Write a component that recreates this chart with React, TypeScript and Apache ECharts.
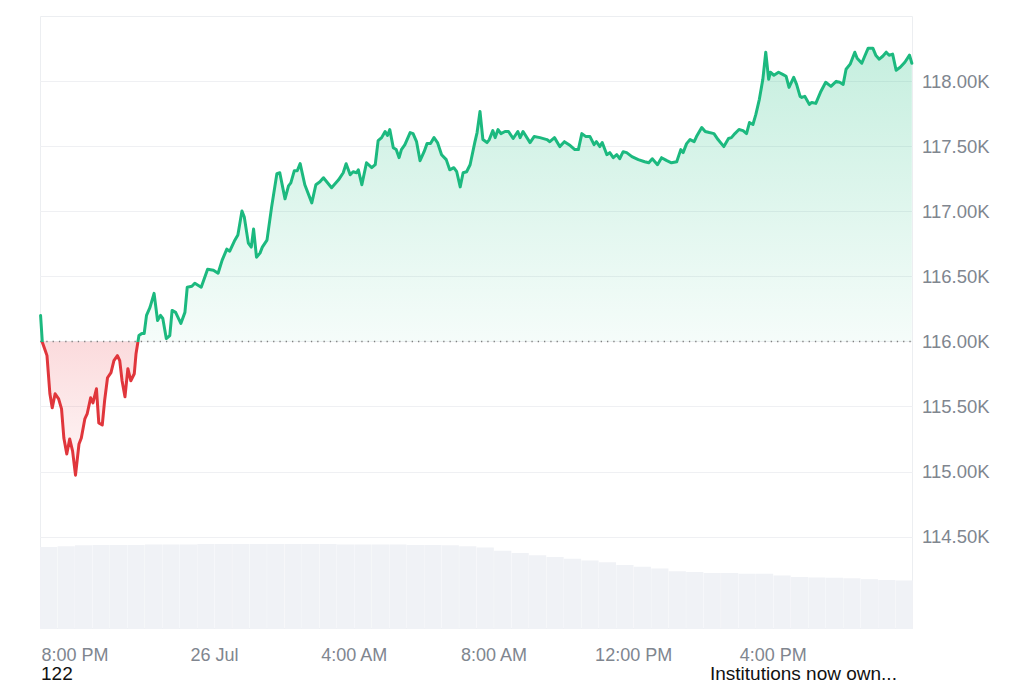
import React, { useEffect, useRef } from 'react';
import * as echarts from 'echarts';

// Minutes since 7:00 PM (25 Jul) and BTC price
const PRICE_POINTS: [number, number][] = [
  [1, 116200], [4, 115995], [9, 115931], [12, 115892], [17, 115599], [21, 115491], [26, 115599], [32, 115560],
  [37, 115483], [41, 115259], [46, 115136], [51, 115252], [56, 115159], [61, 114974], [67, 115213], [71, 115259],
  [77, 115406], [81, 115444], [87, 115568], [91, 115529], [97, 115637], [101, 115375], [107, 115360], [111, 115545],
  [116, 115722], [122, 115761], [127, 115853], [133, 115892], [137, 115853], [141, 115699], [146, 115576], [151, 115792],
  [156, 115699], [162, 115753], [165, 115907], [170, 116046], [175, 116062], [179, 116062], [183, 116201], [189, 116262],
  [196, 116370], [202, 116162], [207, 116201], [211, 116177], [217, 116023], [223, 116046], [227, 116239], [233, 116224],
  [242, 116139], [249, 116224], [253, 116417], [261, 116424], [266, 116448], [277, 116417], [288, 116556], [298, 116548],
  [306, 116525], [313, 116625], [321, 116710], [326, 116694], [334, 116772], [340, 116818], [347, 117003], [351, 116957],
  [358, 116756], [363, 116725], [367, 116864], [372, 116648], [378, 116679], [382, 116725], [390, 116779], [398, 117034],
  [407, 117289], [412, 117296], [421, 117096], [427, 117196], [431, 117219], [437, 117312], [442, 117312], [447, 117366],
  [455, 117204], [467, 117065], [474, 117204], [481, 117227], [487, 117258], [501, 117181], [513, 117242], [521, 117296],
  [526, 117366], [533, 117281], [538, 117304], [544, 117296], [547, 117319], [553, 117204], [561, 117373], [570, 117335],
  [576, 117358], [581, 117543], [587, 117566], [593, 117613], [597, 117582], [601, 117628], [607, 117489], [612, 117474],
  [617, 117412], [621, 117474], [627, 117512], [636, 117605], [641, 117597], [647, 117535], [653, 117389], [660, 117458],
  [665, 117520], [671, 117520], [677, 117566], [683, 117528], [690, 117435], [698, 117397], [704, 117319], [711, 117335],
  [716, 117304], [722, 117188], [727, 117296], [733, 117304], [739, 117358], [747, 117528], [751, 117605], [756, 117767],
  [761, 117551], [768, 117528], [772, 117551], [778, 117620], [782, 117566], [787, 117628], [792, 117597], [799, 117613],
  [805, 117613], [813, 117559], [821, 117613], [825, 117566], [830, 117613], [842, 117528], [849, 117574], [859, 117566],
  [871, 117551], [876, 117535], [884, 117566], [893, 117497], [901, 117535], [911, 117505], [919, 117474], [925, 117474],
  [931, 117597], [938, 117574], [945, 117574], [952, 117512], [956, 117535], [962, 117497], [966, 117528], [974, 117435],
  [979, 117451], [985, 117412], [991, 117435], [996, 117404], [1002, 117458], [1008, 117451], [1017, 117420], [1028, 117397],
  [1039, 117381], [1046, 117373], [1052, 117404], [1061, 117358], [1068, 117412], [1077, 117389], [1085, 117373], [1094, 117381],
  [1101, 117474], [1105, 117451], [1111, 117520], [1117, 117551], [1124, 117535], [1128, 117574], [1137, 117644], [1143, 117613],
  [1150, 117605], [1158, 117597], [1165, 117551], [1175, 117497], [1183, 117559], [1188, 117566], [1194, 117597], [1201, 117628],
  [1208, 117620], [1214, 117597], [1219, 117682], [1225, 117667], [1230, 117744], [1236, 117860], [1242, 118014], [1247, 118222],
  [1252, 118014], [1255, 118068], [1261, 118045], [1269, 118068], [1276, 118052], [1282, 118037], [1287, 117952], [1295, 118029],
  [1300, 117975], [1306, 117883], [1309, 117875], [1314, 117883], [1322, 117821], [1326, 117836], [1333, 117829], [1341, 117914],
  [1350, 117991], [1359, 117960], [1368, 117998], [1374, 117991], [1380, 117975], [1385, 118091], [1392, 118130], [1400, 118222],
  [1404, 118176], [1412, 118137], [1417, 118191], [1423, 118253], [1431, 118253], [1436, 118199], [1442, 118168], [1448, 118191],
  [1454, 118222], [1459, 118199], [1465, 118207], [1471, 118083], [1478, 118106], [1486, 118145], [1494, 118199], [1498, 118137],
];

// Volume bars: [minute slot centre, relative volume]
const VOLUME_POINTS: [number, number][] = [
  [15, 92], [45, 93], [75, 94], [105, 94.5], [135, 94.5], [165, 94.5], [195, 95], [225, 95], [255, 95], [285, 95.5],
  [315, 95.5], [345, 95.5], [375, 95.5], [405, 95.5], [435, 95.5], [465, 95.5], [495, 95.5], [525, 95], [555, 95], [585, 95],
  [615, 95], [645, 94.5], [675, 94.5], [705, 94], [735, 93], [765, 91.5], [795, 88], [825, 85.5], [855, 83], [885, 81],
  [915, 79], [945, 77], [975, 75], [1005, 72], [1035, 70], [1065, 68], [1095, 65], [1125, 64], [1155, 63], [1185, 63],
  [1215, 62], [1245, 62], [1275, 60], [1305, 58.5], [1335, 58], [1365, 57.5], [1395, 57], [1425, 56], [1455, 55], [1485, 54.5],
];

const BASELINE = 116000;
const Y_MIN = 114000;
const Y_MAX = 118500;
const Y_STEP = 500;
const Y_LABEL_MIN = 114500;
const Y_LABEL_MAX = 118000;
const X_MIN = 0;
const X_MAX = 1500;
const XTICK_MINUTES = [60, 300, 540, 780, 1020, 1260];
const XTICK_LABELS = ['8:00 PM', '26 Jul', '4:00 AM', '8:00 AM', '12:00 PM', '4:00 PM'];
const FOOTER_LEFT = '122';
const FOOTER_RIGHT = 'Institutions now own...';

const GREEN = '#1cb97f';
const RED = '#e0363c';
const LABEL_COLOR = '#80868f';
const FONT = 'Liberation Sans, Arial, Helvetica, sans-serif';

export default function App() {
  const ref = useRef<HTMLDivElement>(null);

  useEffect(() => {
    if (!ref.current) return;
    const chart = echarts.init(ref.current, null, { renderer: 'svg' });

    const upper = PRICE_POINTS.map(([t, v]) => [t, Math.max(v, BASELINE)]);
    const lower = PRICE_POINTS.map(([t, v]) => [t, Math.min(v, BASELINE)]);

    const option: any = {
      animation: false,
      backgroundColor: '#ffffff',
      grid: [
        { left: 40, right: 111, top: 16, bottom: 81 },
        { left: 40, right: 111, top: 540, bottom: 54 },
      ],
      xAxis: [
        { type: 'value', gridIndex: 0, min: X_MIN, max: X_MAX, show: false },
        {
          type: 'value',
          gridIndex: 1,
          min: X_MIN,
          max: X_MAX,
          interval: 60,
          axisLine: { show: false },
          axisTick: { show: false },
          splitLine: { show: false },
          axisLabel: {
            margin: 18,
            color: LABEL_COLOR,
            fontSize: 18,
            lineHeight: 16,
            fontFamily: FONT,
            formatter: (v: number) => {
              const i = XTICK_MINUTES.indexOf(v);
              return i >= 0 ? XTICK_LABELS[i] : '';
            },
          },
        },
      ],
      yAxis: [
        {
          type: 'value',
          gridIndex: 0,
          position: 'right',
          min: Y_MIN,
          max: Y_MAX,
          interval: Y_STEP,
          axisLine: { show: false },
          axisTick: { show: false },
          splitLine: {
            show: true,
            showMinLine: false,
            showMaxLine: false,
            lineStyle: { color: '#eff0f3', width: 1 },
          },
          axisLabel: {
            margin: 9,
            color: LABEL_COLOR,
            fontSize: 18.5,
            fontFamily: FONT,
            formatter: (v: number) =>
              v < Y_LABEL_MIN || v > Y_LABEL_MAX ? '' : (v / 1000).toFixed(2) + 'K',
          },
        },
        { type: 'value', gridIndex: 1, min: 0, max: 100, show: false },
      ],
      visualMap: {
        type: 'piecewise',
        show: false,
        seriesIndex: 0,
        dimension: 1,
        pieces: [
          { gte: 100000, lt: BASELINE, color: RED },
          { gte: BASELINE, lte: 130000, color: GREEN },
        ],
      },
      graphic: [
        {
          type: 'rect',
          silent: true,
          z: 0,
          shape: { x: 40.5, y: 16.5, width: 872, height: 612 },
          style: { fill: 'none', stroke: '#eceef1', lineWidth: 1 },
        },
        {
          type: 'text',
          left: 41,
          top: 664,
          style: { text: FOOTER_LEFT, fontSize: 19, lineHeight: 19, fill: '#111', fontFamily: FONT },
        },
        {
          type: 'text',
          left: 710,
          top: 664,
          style: { text: FOOTER_RIGHT, fontSize: 19, lineHeight: 19, fill: '#111', fontFamily: FONT },
        },
      ],
      series: [
        {
          name: 'price',
          type: 'line',
          xAxisIndex: 0,
          yAxisIndex: 0,
          data: PRICE_POINTS,
          symbol: 'none',
          smooth: false,
          z: 5,
          lineStyle: { width: 3, join: 'round', cap: 'round' },
        },
        {
          name: 'up-area',
          type: 'line',
          xAxisIndex: 0,
          yAxisIndex: 0,
          data: upper,
          symbol: 'none',
          silent: true,
          z: 3,
          lineStyle: { width: 0, opacity: 0 },
          areaStyle: {
            origin: BASELINE,
            color: new echarts.graphic.LinearGradient(0, 0, 0, 1, [
              { offset: 0, color: 'rgba(28,190,128,0.36)' },
              { offset: 1, color: 'rgba(28,190,128,0.06)' },
            ]),
          },
        },
        {
          name: 'down-area',
          type: 'line',
          xAxisIndex: 0,
          yAxisIndex: 0,
          data: lower,
          symbol: 'none',
          silent: true,
          z: 3,
          lineStyle: { width: 0, opacity: 0 },
          areaStyle: {
            origin: BASELINE,
            color: new echarts.graphic.LinearGradient(0, 0, 0, 1, [
              { offset: 0, color: 'rgba(234,57,67,0.26)' },
              { offset: 1, color: 'rgba(234,57,67,0.06)' },
            ]),
          },
          markLine: {
            silent: true,
            symbol: 'none',
            label: { show: false },
            lineStyle: { color: '#7f7f7f', width: 1.3, type: [1.3, 5] },
            data: [{ yAxis: BASELINE }],
          },
        },
        {
          name: 'volume',
          type: 'bar',
          xAxisIndex: 1,
          yAxisIndex: 1,
          data: VOLUME_POINTS,
          barWidth: 17.2,
          silent: true,
          itemStyle: { color: '#f0f2f6' },
        },
      ],
    };

    chart.setOption(option);
    return () => chart.dispose();
  }, []);

  return (
    <div
      ref={ref}
      style={{ position: 'fixed', left: 0, top: 0, width: 1024, height: 683, background: '#fff' }}
    />
  );
}
